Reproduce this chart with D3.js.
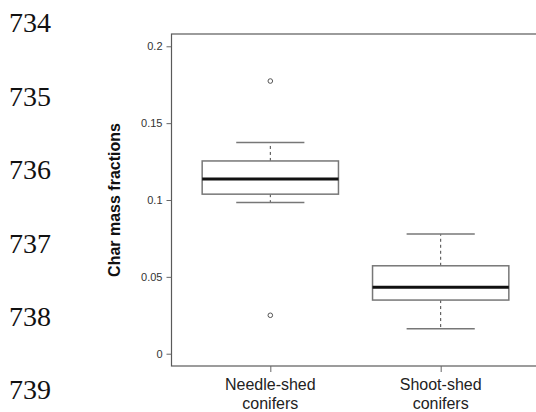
<!DOCTYPE html>
<html>
<head>
<meta charset="utf-8">
<script src="https://cdn.jsdelivr.net/npm/d3@7"></script>
<style>
  html, body { margin: 0; padding: 0; background: #fff; }
  svg { display: block; }
</style>
</head>
<body>
<div class="graphContainer"></div>
<script>
// Data
const categories = [['Needle-shed', 'conifers'], ['Shoot-shed', 'conifers']];
const whiskerLow = [0.0984, 0.0163];
const q1 = [0.1038, 0.0349];
const median = [0.1136, 0.0432];
const q3 = [0.1254, 0.0572];
const whiskerHigh = [0.1374, 0.0778];
const outliers = [[0.1774, 0.0250], []];
const yTicks = [0, 0.05, 0.1, 0.15, 0.2];
const yTickLabels = ['0', '0.05', '0.1', '0.15', '0.2'];
const lineNumbers = ['734', '735', '736', '737', '738', '739'];

const renderChart = () => {
    const width = 536;
    const height = 412;

    const svg = d3.select('.graphContainer')
        .append('svg')
        .attr('width', width)
        .attr('height', height);

    // Manuscript line numbers on the left
    svg.selectAll('.lineNo')
        .data(lineNumbers)
        .enter()
        .append('text')
        .attr('class', 'lineNo')
        .attr('x', 9)
        .attr('y', (d, i) => 32.3 + i * 73.4)
        .attr('font-family', '"Liberation Serif", "DejaVu Serif", serif')
        .attr('font-size', 28)
        .attr('fill', '#111')
        .text(d => d);

    // Scales (R style: 4% extension around the limits)
    const x = d3.scaleLinear()
        .domain([0.42, 2.58])
        .range([171.5, 539.5]);

    const y = d3.scaleLinear()
        .domain([-0.008, 0.208])
        .range([366, 34]);

    const boxHalf = (x(1.4) - x(1));
    const capHalf = boxHalf / 2;

    // Frame
    svg.append('rect')
        .attr('x', x(0.42))
        .attr('y', y(0.208))
        .attr('width', x(2.58) - x(0.42))
        .attr('height', y(-0.008) - y(0.208))
        .attr('fill', 'none')
        .attr('stroke', '#5a5a5a')
        .attr('stroke-width', 1.2);

    // Y axis
    const yAxis = svg.append('g')
        .attr('transform', `translate(${x(0.42)},0)`)
        .call(d3.axisLeft(y)
            .tickValues(yTicks)
            .tickFormat((d, i) => yTickLabels[i])
            .tickSize(5)
            .tickPadding(4));
    yAxis.select('.domain').remove();
    yAxis.selectAll('line').attr('stroke', '#666');
    yAxis.selectAll('text')
        .attr('font-family', '"Liberation Sans", Arial, sans-serif')
        .attr('font-size', 11)
        .attr('fill', '#333');

    // X axis ticks
    const xAxis = svg.append('g')
        .attr('transform', `translate(0,${y(-0.008)})`)
        .call(d3.axisBottom(x)
            .tickValues([1, 2])
            .tickFormat('')
            .tickSize(6));
    xAxis.select('.domain').remove();
    xAxis.selectAll('line').attr('stroke', '#666');

    // Category labels (two lines)
    categories.forEach((lines, i) => {
        svg.append('text')
            .attr('x', x(i + 1))
            .attr('text-anchor', 'middle')
            .attr('font-family', '"Liberation Sans", Arial, sans-serif')
            .attr('font-size', 16)
            .attr('fill', '#222')
            .selectAll('tspan')
            .data(lines)
            .enter()
            .append('tspan')
            .attr('x', x(i + 1))
            .attr('y', (d, j) => 390 + j * 19)
            .text(d => d);
    });

    // Y title
    svg.append('text')
        .attr('transform', `translate(120,${(y(0) + y(0.2)) / 2}) rotate(-90)`)
        .attr('text-anchor', 'middle')
        .attr('font-family', '"Liberation Sans", Arial, sans-serif')
        .attr('font-size', 16)
        .attr('font-weight', 'bold')
        .attr('fill', '#111')
        .text('Char mass fractions');

    // Boxes
    const idx = d3.range(categories.length);
    const g = svg.append('g');

    // Whiskers (dashed)
    g.selectAll('.whiskerUp')
        .data(idx)
        .enter()
        .append('line')
        .attr('x1', i => x(i + 1))
        .attr('x2', i => x(i + 1))
        .attr('y1', i => y(q3[i]))
        .attr('y2', i => y(whiskerHigh[i]))
        .attr('stroke', '#444')
        .attr('stroke-dasharray', '3,3');

    g.selectAll('.whiskerDown')
        .data(idx)
        .enter()
        .append('line')
        .attr('x1', i => x(i + 1))
        .attr('x2', i => x(i + 1))
        .attr('y1', i => y(q1[i]))
        .attr('y2', i => y(whiskerLow[i]))
        .attr('stroke', '#444')
        .attr('stroke-dasharray', '3,3');

    // Caps
    [whiskerLow, whiskerHigh].forEach(arr => {
        g.selectAll(null)
            .data(idx)
            .enter()
            .append('line')
            .attr('x1', i => x(i + 1) - capHalf)
            .attr('x2', i => x(i + 1) + capHalf)
            .attr('y1', i => y(arr[i]))
            .attr('y2', i => y(arr[i]))
            .attr('stroke', '#777')
            .attr('stroke-width', 1.5);
    });

    g.selectAll('.box')
        .data(idx)
        .enter()
        .append('rect')
        .attr('x', i => x(i + 1) - boxHalf)
        .attr('y', i => y(q3[i]))
        .attr('width', boxHalf * 2)
        .attr('height', i => y(q1[i]) - y(q3[i]))
        .attr('fill', '#fff')
        .attr('stroke', '#777')
        .attr('stroke-width', 1.5);

    g.selectAll('.median')
        .data(idx)
        .enter()
        .append('line')
        .attr('x1', i => x(i + 1) - boxHalf)
        .attr('x2', i => x(i + 1) + boxHalf)
        .attr('y1', i => y(median[i]))
        .attr('y2', i => y(median[i]))
        .attr('stroke', '#111')
        .attr('stroke-width', 3);

    // Outliers
    const outPts = [];
    outliers.forEach((arr, i) => arr.forEach(v => outPts.push({ i, v })));
    g.selectAll('.dot')
        .data(outPts)
        .enter()
        .append('circle')
        .attr('cx', d => x(d.i + 1))
        .attr('cy', d => y(d.v))
        .attr('r', 2.3)
        .attr('fill', 'none')
        .attr('stroke', '#555')
        .attr('stroke-width', 1);
};

renderChart();
</script>
</body>
</html>
